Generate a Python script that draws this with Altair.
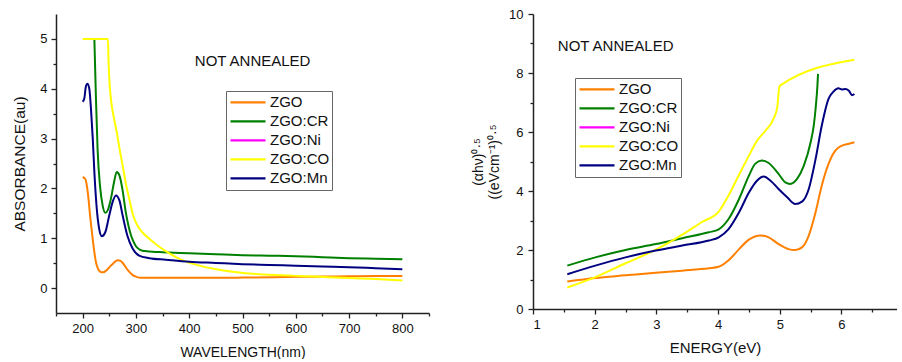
import altair as alt
import pandas as pd

series = ["ZGO", "ZGO:CR", "ZGO:Ni", "ZGO:CO", "ZGO:Mn"]
colors = ["#FF8000", "#008000", "#FF00FF", "#FFFF00", "#000080"]

# ---------- Left panel: absorbance vs wavelength ----------
zgo_wl = [200, 205, 208, 211, 214, 217.5, 221, 225, 228, 231, 235, 239, 243, 247, 252, 256, 261, 266, 270, 274,
          279, 284, 289, 294, 300, 306, 312, 330, 400, 500, 560, 600, 650, 700, 750, 800]
zgo_abs = [2.23, 2.19, 2.05, 1.79, 1.45, 1.12, 0.80, 0.52, 0.41, 0.35, 0.32, 0.32, 0.34, 0.38, 0.44, 0.48, 0.53, 0.56,
           0.55, 0.52, 0.45, 0.37, 0.31, 0.26, 0.23, 0.21, 0.205, 0.205, 0.205, 0.21, 0.215, 0.225, 0.23, 0.235,
           0.24, 0.24]

cr_wl = [222, 223, 225, 228, 232.5, 237.5, 242.5, 247, 253, 259, 264, 269, 275, 281, 286, 291, 296, 300, 306,
         312.5, 320, 331, 350, 400, 450, 500, 550, 600, 650, 700, 750, 800]
cr_abs = [5.0, 4.6, 3.8, 2.8, 2.06, 1.66, 1.51, 1.56, 1.79, 2.13, 2.33, 2.26, 1.96, 1.52, 1.25, 1.05, 0.92, 0.84,
          0.78, 0.75, 0.74, 0.73, 0.72, 0.70, 0.68, 0.66, 0.65, 0.64, 0.62, 0.60, 0.59, 0.58]

co_wl = [200, 220, 240, 247.5, 248.5, 250, 253, 258, 264, 270, 275, 281, 287.5, 295, 303, 312, 325, 340, 356,
         387, 419, 450, 481, 531, 594, 637, 700, 750, 800]
co_abs = [5, 5, 5, 5, 4.6, 4.2, 3.8, 3.45, 3.13, 2.75, 2.46, 2.1, 1.79, 1.45, 1.25, 1.12, 0.99, 0.86, 0.74,
          0.56, 0.45, 0.38, 0.33, 0.28, 0.25, 0.23, 0.2, 0.18, 0.15]

mn_wl = [200, 203, 206, 209, 212.5, 215.6, 219, 222, 226, 231, 236, 242.5, 250, 256, 262.5, 269, 275, 284, 294,
         306, 325, 356, 400, 450, 500, 550, 600, 650, 700, 750, 800]
mn_abs = [3.74, 3.8, 4.04, 4.1, 4.0, 3.6, 3.0, 2.33, 1.66, 1.19, 1.04, 1.12, 1.46, 1.72, 1.86, 1.76, 1.46, 1.05,
          0.79, 0.65, 0.60, 0.57, 0.53, 0.505, 0.48, 0.465, 0.45, 0.435, 0.42, 0.40, 0.38]

# ---------- Right panel: Tauc plot vs energy ----------
zgo_e = [1.556, 2.01, 2.5, 2.99, 3.42, 3.85, 4.01, 4.17, 4.34, 4.5, 4.69, 4.82, 4.98, 5.14, 5.25, 5.36, 5.47,
         5.58, 5.68, 5.79, 5.9, 6.01, 6.12, 6.21]
zgo_t = [0.93, 1.05, 1.14, 1.23, 1.30, 1.38, 1.43, 1.65, 2.03, 2.35, 2.49, 2.43, 2.2, 2.03, 2.0, 2.09, 2.49,
         3.28, 4.18, 4.92, 5.37, 5.54, 5.6, 5.65]

cr_e = [1.556, 2.01, 2.5, 2.99, 3.42, 3.85, 4.01, 4.17, 4.34, 4.5, 4.6, 4.71, 4.82, 4.98, 5.09, 5.17, 5.28, 5.39,
        5.5, 5.55, 5.58, 5.61, 5.62]
cr_t = [1.47, 1.75, 2.0, 2.2, 2.40, 2.6, 2.7, 3.05, 3.73, 4.52, 4.92, 5.03, 4.95, 4.58, 4.29, 4.24, 4.41, 4.86,
        5.65, 6.21, 6.78, 7.57, 7.97]

co_e = [1.556, 2.01, 2.5, 2.99, 3.42, 3.74, 4.01, 4.17, 4.34, 4.5, 4.63, 4.77, 4.9, 4.96, 4.99, 5.01, 6.21]
co_t = [0.73, 1.08, 1.55, 2.01, 2.52, 2.95, 3.3, 3.85, 4.55, 5.2, 5.7, 6.05, 6.45, 6.85, 7.5, 7.58, 8.45]

mn_e = [1.556, 2.01, 2.5, 2.99, 3.42, 3.85, 4.01, 4.17, 4.34, 4.5, 4.63, 4.74, 4.85, 4.98, 5.12, 5.25, 5.36,
        5.47, 5.58, 5.68, 5.79, 5.87, 5.95, 6.01, 6.06, 6.12, 6.17, 6.21]
mn_t = [1.18, 1.47, 1.75, 1.98, 2.15, 2.32, 2.43, 2.71, 3.28, 3.95, 4.35, 4.49, 4.35, 4.07, 3.79, 3.56, 3.64,
        4.07, 5.08, 6.21, 7.12, 7.37, 7.48, 7.44, 7.46, 7.4, 7.25, 7.29]

# axis tick values (major = labelled, minor = unlabelled)
left_x_major = [200, 300, 400, 500, 600, 700, 800]
left_x_minor = [150, 250, 350, 450, 550, 650, 750, 850]
left_y_major = [0, 1, 2, 3, 4, 5]
left_y_minor = [0.5, 1.5, 2.5, 3.5, 4.5]
right_x_major = [1, 2, 3, 4, 5, 6]
right_x_minor = [1.5, 2.5, 3.5, 4.5, 5.5, 6.5]
right_y_major = [0, 2, 4, 6, 8, 10]
right_y_minor = [1, 3, 5, 7, 9]

annot_text = ["NOT ANNEALED"]
annot_left = [519.0, 4.56]
annot_right = [2.34, 8.92]

FONT = "Liberation Sans"


def long_df(pairs):
    rows = []
    for name, xs, ys in pairs:
        for i, (a, b) in enumerate(zip(xs, ys)):
            rows.append({"series": name, "x": a, "y": b, "i": i})
    return pd.DataFrame(rows)


left_df = long_df([("ZGO", zgo_wl, zgo_abs), ("ZGO:CR", cr_wl, cr_abs),
                   ("ZGO:CO", co_wl, co_abs), ("ZGO:Mn", mn_wl, mn_abs)])
right_df = long_df([("ZGO", zgo_e, zgo_t), ("ZGO:CR", cr_e, cr_t),
                    ("ZGO:CO", co_e, co_t), ("ZGO:Mn", mn_e, mn_t)])


def legend(lx, ly):
    return alt.Legend(
        title=None, orient="none", legendX=lx, legendY=ly,
        symbolType="stroke", symbolSize=1225, symbolStrokeWidth=2.2,
        labelFont=FONT, labelFontSize=15, labelColor="#111",
        labelOffset=3, symbolOffset=1, padding=2, rowPadding=0, clipHeight=18.8,
        strokeColor="#666", fillColor="white",
    )


def axis_common(major, minor, **kw):
    vals = sorted(float(v) for v in major + minor)
    base = dict(labelFont=FONT, titleFont=FONT, labelColor="#111", titleColor="#111",
                labelFontSize=13, domainColor="#222", domainWidth=1.5, tickColor="#222",
                tickWidth=1.3, grid=False, titleFontWeight="normal", labelPadding=4,
                labelOverlap=False, tickCount=200, values=vals,
                labelExpr="indexof(" + str(major) + ", datum.value) < 0 ? '' : format(datum.value, 'd')",
                tickSize={"condition": {"test": "indexof(" + str(major) + ", datum.value) >= 0", "value": 5},
                          "value": 3})
    base.update(kw)
    return alt.Axis(**base)


def color_enc(lx, ly):
    return alt.Color("series:N", scale=alt.Scale(domain=series, range=colors), legend=legend(lx, ly))


# Left
xl = alt.X("x:Q", scale=alt.Scale(domain=[150, 850], nice=False, zero=False),
           axis=axis_common(left_x_major, left_x_minor, title="WAVELENGTH(nm)", titleFontSize=14,
                            titlePadding=10))
yl = alt.Y("y:Q", scale=alt.Scale(domain=[-0.5, 5.5], nice=False, zero=False),
           axis=axis_common(left_y_major, left_y_minor, title="ABSORBANCE(au)", titleFontSize=15.5,
                            titlePadding=12))

left_lines = alt.Chart(left_df).mark_line(strokeWidth=2, interpolate="monotone").encode(
    x=xl, y=yl, color=color_enc(170, 77), order="i:Q", detail="series:N")
left_text = alt.Chart(pd.DataFrame({"x": [annot_left[0]], "y": [annot_left[1]], "t": annot_text})).mark_text(
    font=FONT, fontSize=15, color="#111").encode(x="x:Q", y="y:Q", text="t:N")
left = alt.layer(left_lines, left_text).properties(width=373, height=299)

# Right
xr = alt.X("x:Q", scale=alt.Scale(domain=[1, 6.9], nice=False, zero=False),
           axis=axis_common(right_x_major, right_x_minor, title="ENERGY(eV)", titleFontSize=15,
                            titlePadding=9))
yr = alt.Y("y:Q", scale=alt.Scale(domain=[0, 10], nice=False, zero=False),
           axis=axis_common(right_y_major, right_y_minor, title=["(αhν)⁰·⁵", "((eVcm⁻¹)⁰·⁵"],
                            titleFontSize=14, labelPadding=5, titlePadding=7))

right_lines = alt.Chart(right_df).mark_line(strokeWidth=2, interpolate="monotone").encode(
    x=xr, y=yr, color=color_enc(42, 64), order="i:Q", detail="series:N")
right_text = alt.Chart(pd.DataFrame({"x": [annot_right[0]], "y": [annot_right[1]], "t": annot_text})).mark_text(
    font=FONT, fontSize=15, color="#111").encode(x="x:Q", y="y:Q", text="t:N")
right = alt.layer(right_lines, right_text).properties(width=364, height=295)

chart = alt.hconcat(left, right, spacing=104, bounds="flush").resolve_scale(color="independent").configure(
    padding={"left": 12, "top": 8, "right": 0, "bottom": 0}, background="white", font=FONT
).configure_view(stroke=None)

chart.save("out.html", embed_options={"renderer": "svg", "actions": False})
